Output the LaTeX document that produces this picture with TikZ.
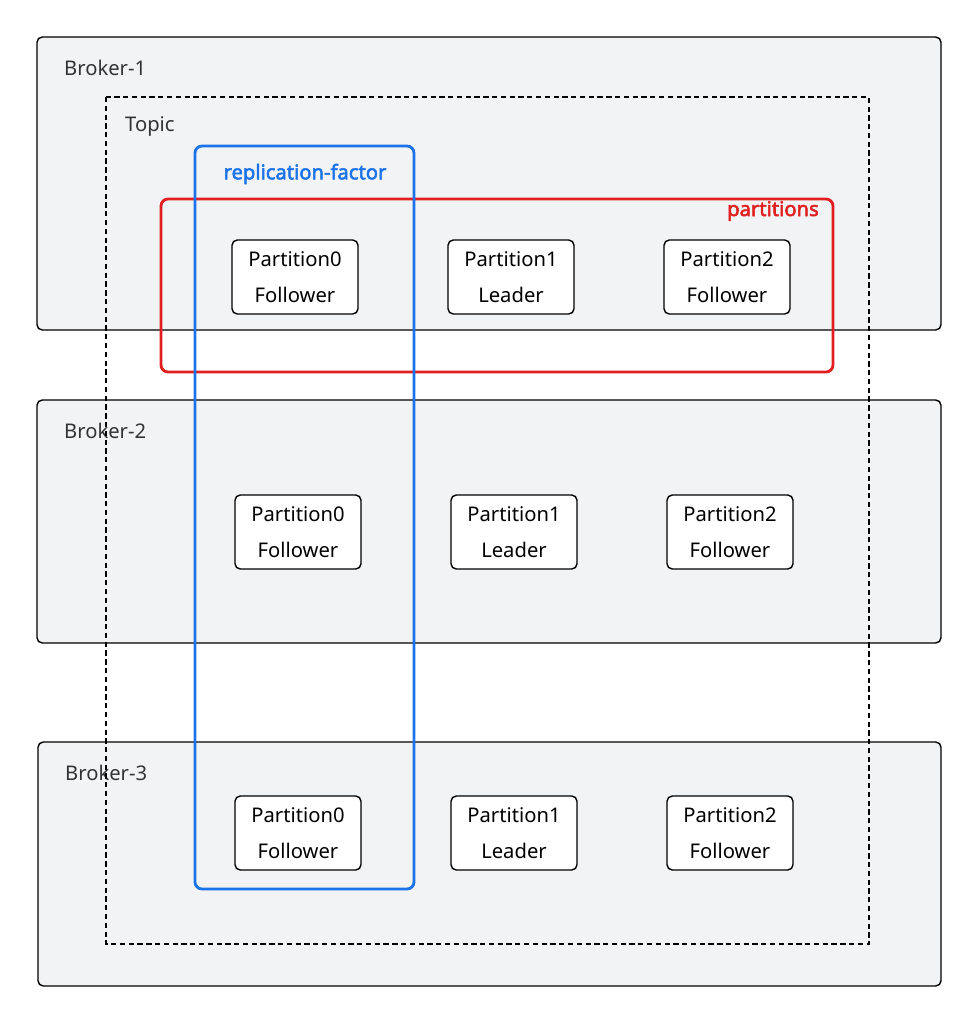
\documentclass[tikz,border=0pt]{standalone}
\usepackage{fontspec}
\setmainfont{Noto Sans}[AutoFakeBold=2.5]
\usetikzlibrary{positioning,fit}
\definecolor{brokerfill}{RGB}{242,243,245}
\definecolor{repblue}{RGB}{26,115,232}
\definecolor{partred}{RGB}{224,32,32}

\begin{document}
\begin{tikzpicture}[
    x=0.02cm, y=-0.02cm,
    broker/.style={draw, fill=brokerfill, rounded corners=3pt, line width=0.8pt},
    partition/.style={draw, fill=white, rounded corners=3pt, line width=0.8pt, minimum width=2.52cm, minimum height=1.48cm, align=center, text depth=0pt, font=\fontsize{11.5}{20}\selectfont},
    lbl/.style={anchor=west, font=\fontsize{11.5}{14}\selectfont, text=black!80},
    topic/.style={draw, dash pattern=on 3pt off 2pt, line width=0.7pt},
    groupbox/.style={draw, rounded corners=4pt, line width=1.6pt}
]
    \useasboundingbox (0,0) rectangle (979,1024);

    % Brokers
    \draw[broker] (37,37) rectangle (941,330);
    \draw[broker] (37,400) rectangle (941,643);
    \draw[broker] (38,742) rectangle (941,986);
    \node[lbl] (b1) at (58,68) {Broker-1};
    \node[lbl] (b2) at (58,431) {Broker-2};
    \node[lbl] (b3) at (59,773) {Broker-3};

    % Topic
    \draw[topic] (106,97) rectangle (869,944);
    \node[lbl] (t) at (119,126) {Topic};

    % Partitions
    \node[partition] (p10) at (295,277) {Partition0\\Follower};
    \node[partition] (p11) at (511,277) {Partition1\\Leader};
    \node[partition] (p12) at (727,277) {Partition2\\Follower};
    \node[partition] (p20) at (298,532) {Partition0\\Follower};
    \node[partition] (p21) at (514,532) {Partition1\\Leader};
    \node[partition] (p22) at (730,532) {Partition2\\Follower};
    \node[partition] (p30) at (298,833) {Partition0\\Follower};
    \node[partition] (p31) at (514,833) {Partition1\\Leader};
    \node[partition] (p32) at (730,833) {Partition2\\Follower};

    % partitions and replication-factor
    \draw[groupbox, partred] (161,199) rectangle (833,372);
    \node[font=\fontsize{11.5}{14}\selectfont\bfseries, text=partred] (pl) at (773,211) {partitions};
    \draw[groupbox, repblue] (195,146) rectangle (414,889);
    \node[font=\fontsize{11.5}{14}\selectfont\bfseries, text=repblue] (rl) at (305,174) {replication-factor};
\end{tikzpicture}
\end{document}
